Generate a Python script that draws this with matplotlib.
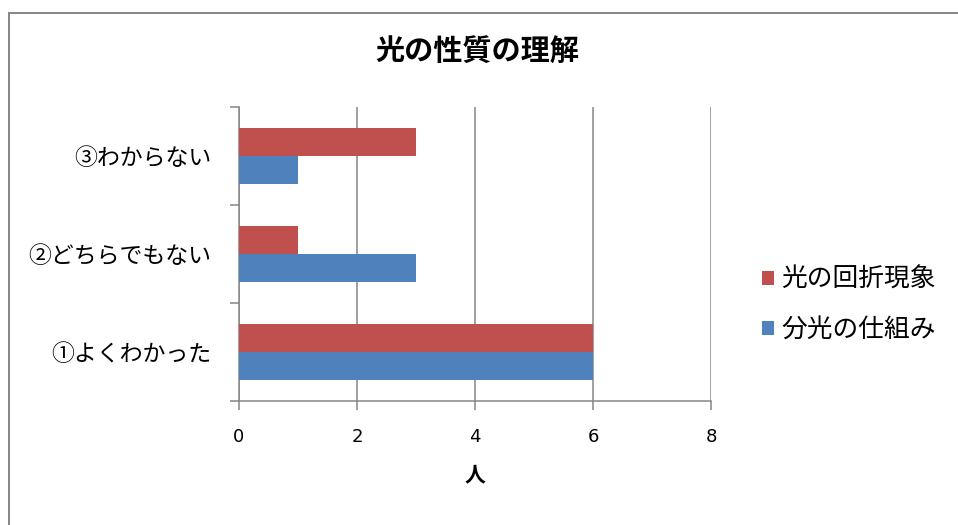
import matplotlib
matplotlib.use("Agg")
import matplotlib.pyplot as plt
from matplotlib.patches import Rectangle
import numpy as np

plt.rcParams['font.family'] = ['Noto Sans CJK JP', 'DejaVu Sans']

# Survey results (number of people)
categories = ['①よくわかった', '②どちらでもない', '③わからない']
series_names = ['分光の仕組み', '光の回折現象']
bunkou = [6, 3, 1]        # 分光の仕組み
kaisetsu = [6, 1, 3]      # 光の回折現象
x_ticks = [0, 2, 4, 6, 8]
title = '光の性質の理解'
x_label = '人'

blue = '#4F81BD'
red = '#C0504D'
gray = '#868686'

fig = plt.figure(figsize=(9.58, 5.25), dpi=100)
ax = fig.add_axes([239 / 958, 1 - 401 / 525, (711 - 239) / 958, (401 - 107) / 525])

y = np.arange(len(categories))
h = 0.2857
ax.barh(y - h / 2, bunkou, height=h, color=blue, label=series_names[0], zorder=3)
ax.barh(y + h / 2, kaisetsu, height=h, color=red, label=series_names[1], zorder=3)

ax.set_xlim(0, 8)
ax.set_ylim(-0.5, len(categories) - 0.5)
ax.set_xticks(x_ticks)
ax.set_xticklabels([str(v) for v in x_ticks], family='DejaVu Sans', fontsize=13)
ax.set_yticks(y)
ax.set_yticklabels(categories, fontsize=16.5)
ax.set_yticks(np.arange(-0.5, len(categories), 1.0), minor=True)

ax.tick_params(axis='y', which='major', length=0, pad=20)
ax.tick_params(axis='y', which='minor', length=6.5, width=1.1, color=gray, direction='out')
ax.tick_params(axis='x', which='major', length=6.5, width=1.1, color=gray, direction='out', pad=13)

ax.xaxis.grid(True, color=gray, linewidth=1.1, zorder=0)
for side in ('top', 'right'):
    ax.spines[side].set_visible(False)
for side in ('left', 'bottom'):
    ax.spines[side].set_color(gray)
    ax.spines[side].set_linewidth(1.1)

ax.set_xlabel(x_label, fontsize=15, fontweight='bold', labelpad=13)

fig.text(477 / 958, 1 - 52 / 525, title, ha='center', va='center', fontsize=21, fontweight='bold')

handles, labels = ax.get_legend_handles_labels()
fig.legend(handles[::-1], labels[::-1], loc='center left',
           bbox_to_anchor=(739 / 958, 1 - 305 / 525), frameon=False,
           fontsize=18.5, handlelength=0.45, handleheight=0.45, handletextpad=0.3,
           labelspacing=0.95)

# chart frame
fig.patches.append(Rectangle((9 / 958, -0.05), 1.2, 1 - 13 / 525 + 0.05,
                             transform=fig.transFigure, fill=False,
                             edgecolor=gray, linewidth=1.4))

fig.savefig('out.png', dpi=100)
